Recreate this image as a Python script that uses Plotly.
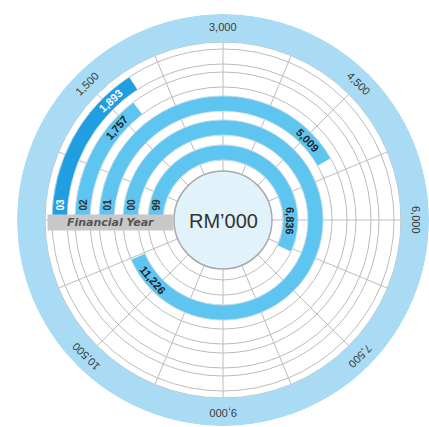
import math
import plotly.graph_objects as go

# ---------------- data ----------------
years = ["03", "02", "01", "00", "99"]
values = [1893, 1757, 5009, 11226, 6836]
value_labels = ["1,893", "1,757", "5,009", "11,226", "6,836"]
tick_values = [1500, 3000, 4500, 6000, 7500, 9000, 10500]
tick_labels = ["1,500", "3,000", "4,500", "6,000", "7,500", "9,000", "10,500"]
axis_max = 12000
center_text = "RM\u2019000"
axis_title = "Financial Year"

# ---------------- geometry / style ----------------
W, H = 429, 427
CX, CY = 223, 220          # centre of the dial (px)
R = 206                    # outer radius (px)
HOLE = 49                  # inner disc radius (px)
ring_base = [156, 133, 109, 85, 60]
ring_width = 15
band_base, band_width = 178, 28
bar_colors = ["#1f9ee1", "#5ec4f0", "#5ec4f0", "#5ec4f0", "#5ec4f0"]
band_color = "#a9dcf4"
disc_color = "#e1f2fb"
grid_color = "#bcbcbc"
text_color = "#333333"


def to_deg(v):
    return v / axis_max * 360.0


def screen_angle(v):
    # clockwise angle from 12 o'clock; value 0 sits at 9 o'clock
    return (270.0 + to_deg(v)) % 360.0


def paper(a, r):
    x = CX + r * math.sin(math.radians(a))
    y = CY - r * math.cos(math.radians(a))
    return x / W, 1 - y / H


def norm(a):
    return ((a + 180.0) % 360.0) - 180.0


fig = go.Figure()

# outer light-blue band
fig.add_trace(go.Barpolar(
    r=[band_width], base=[band_base], theta=[180], width=[360],
    marker=dict(color=band_color, line=dict(width=0)),
    hoverinfo="skip", showlegend=False))

# data bars
fig.add_trace(go.Barpolar(
    r=[ring_width] * len(values),
    base=ring_base,
    theta=[to_deg(v) / 2 for v in values],
    width=[to_deg(v) for v in values],
    marker=dict(color=bar_colors, line=dict(color="white", width=0.5)),
    text=years, hoverinfo="text", showlegend=False))

grid_r = sorted(set(ring_base + [b + ring_width for b in ring_base] + [band_base]))

fig.update_layout(
    width=W, height=H,
    margin=dict(l=0, r=0, t=0, b=0),
    paper_bgcolor="white",
    showlegend=False,
    polar=dict(
        domain=dict(x=[(CX - R) / W, (CX + R) / W],
                    y=[1 - (CY + R) / H, 1 - (CY - R) / H]),
        hole=HOLE / R,
        bgcolor="white",
        barmode="overlay",
        radialaxis=dict(range=[HOLE, R], tickvals=grid_r, showticklabels=False,
                        ticks="", showline=False, gridcolor=grid_color, gridwidth=1),
        angularaxis=dict(rotation=180, direction="clockwise",
                         tickvals=[i * 22.5 for i in range(16)],
                         showticklabels=False, ticks="", showline=False,
                         gridcolor=grid_color, gridwidth=1),
    ),
)

# inner disc
fig.add_shape(type="circle", xref="paper", yref="paper",
              x0=(CX - HOLE) / W, x1=(CX + HOLE) / W,
              y0=1 - (CY + HOLE) / H, y1=1 - (CY - HOLE) / H,
              fillcolor=disc_color, line=dict(color="#a9a9a9", width=1.5),
              layer="above")

ann = []
# tick labels in the outer band
for v, t in zip(tick_values, tick_labels):
    a = screen_angle(v)
    x, y = paper(a, 193)
    ann.append(dict(x=x, y=y, xref="paper", yref="paper", text=t, showarrow=False,
                    textangle=norm(a), xanchor="center", yanchor="middle",
                    font=dict(family="Liberation Sans", size=11, color="#3a3a3a")))

# value labels near the bar ends
for i, (v, t) in enumerate(zip(values, value_labels)):
    rm = ring_base[i] + ring_width / 2
    a = screen_angle(v) - math.degrees(28.0 / rm)
    ang = norm(a)
    if 180 <= a % 360 < 270:
        ang = norm(a - 180)
    x, y = paper(a, rm)
    ann.append(dict(x=x, y=y, xref="paper", yref="paper", text="<b>%s</b>" % t,
                    showarrow=False, textangle=ang, xanchor="center", yanchor="middle",
                    font=dict(family="Liberation Sans", size=11,
                              color="white" if i == 0 else "#222222")))

# year labels at the start of each ring
for i, yr in enumerate(years):
    rm = ring_base[i] + ring_width / 2
    ann.append(dict(x=(CX - rm) / W, y=1 - 205 / H, xref="paper", yref="paper",
                    text="<b>%s</b>" % yr, showarrow=False, textangle=-90,
                    xanchor="center", yanchor="middle",
                    font=dict(family="Liberation Sans", size=10,
                              color="white" if i == 0 else "#333333")))

# axis title box
ann.append(dict(x=110.5 / W, y=1 - 222.5 / H, xref="paper", yref="paper",
                text="<b><i>%s</i></b>" % axis_title, showarrow=False,
                xanchor="center", yanchor="middle", width=123, height=13,
                bgcolor="#c8c8c8", borderpad=1,
                font=dict(family="DejaVu Sans", size=11, color="#555555")))

# centre label
ann.append(dict(x=CX / W, y=1 - 221 / H, xref="paper", yref="paper",
                text=center_text, showarrow=False, xanchor="center", yanchor="middle",
                font=dict(family="Liberation Sans", size=20, color=text_color)))

fig.update_layout(annotations=ann)
fig.write_html("out.html")
